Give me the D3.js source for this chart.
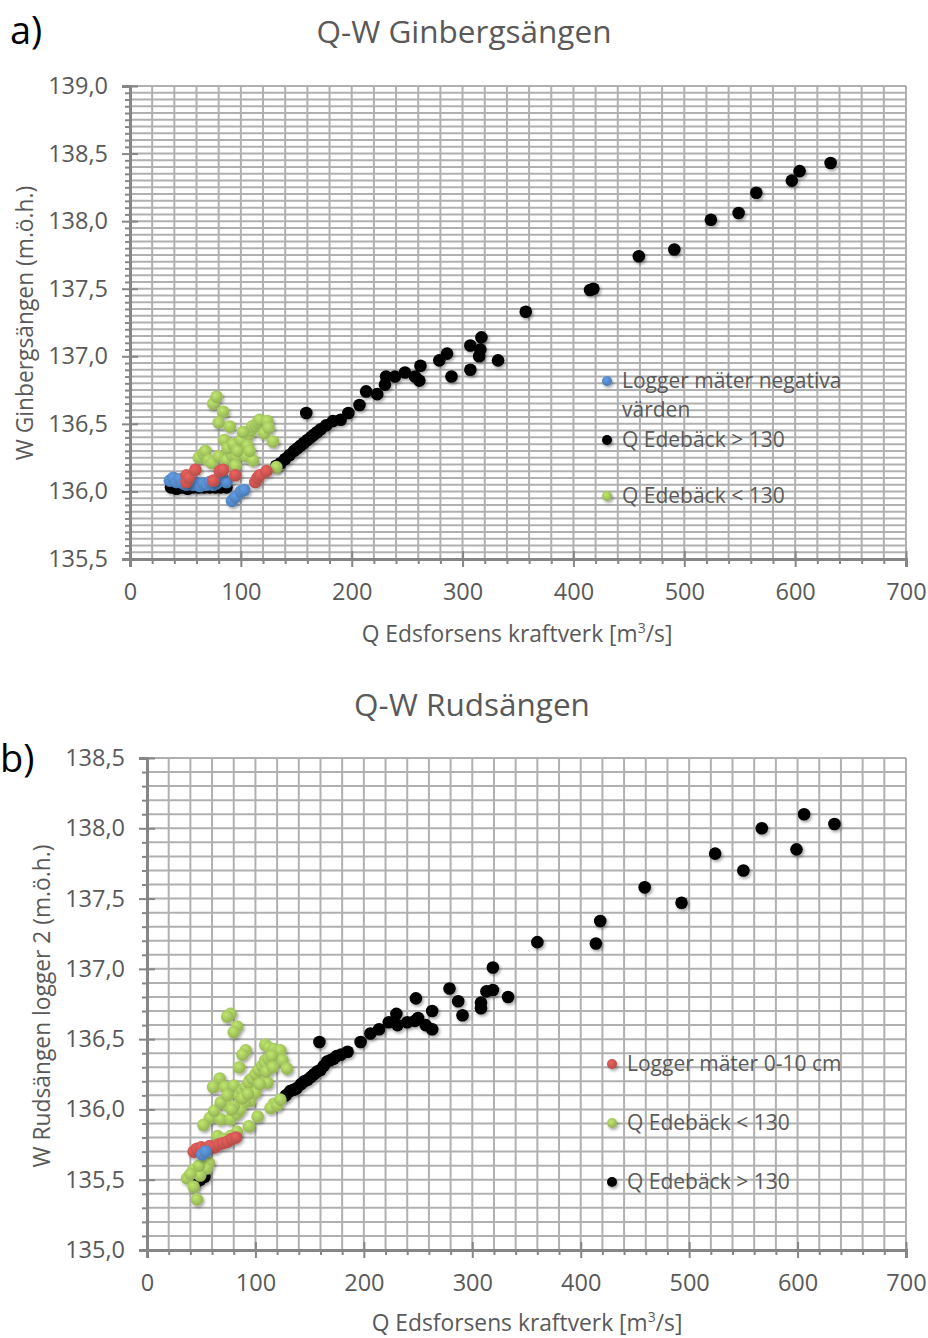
<!DOCTYPE html>
<html lang="sv">
<head>
<meta charset="UTF-8">
<title>Q-W Ginbergsängen / Rudsängen</title>
<script src="https://d3js.org/d3.v7.min.js"></script>
<style>
    body { margin: 0; background: #fff; font-family: "Open Sans", Arial, sans-serif; }
    svg { display: block; }
    .grid line { stroke: #b0b0b0; stroke-width: 2; }
    .axis path, .axis line { stroke: #868686; stroke-width: 2; }
    .axis .domain { stroke-width: 3; }
    .axis text { fill: #595959; font-size: 23.5px; font-family: "Open Sans", Arial, sans-serif; }
    .titel { fill: #595959; font-size: 31.5px; }
    .axeltitel { fill: #595959; font-size: 22.8px; }
    .leg { fill: #595959; font-size: 21px; }
    .panel { fill: #000; font-size: 38px; }
</style>
</head>
<body>
<svg width="928" height="1338"></svg>
<script>
// --- data: [Q Edsforsens (m3/s), W (m.ö.h.)] ---
const ginSvart = [
    [37,136.03],[42,136.02],[47,136.03],[52,136.02],[57,136.03],[62,136.03],[67,136.03],[72,136.03],[77,136.03],[82,136.03],[87,136.03],
    [132,136.19],[136,136.21],[140,136.24],[144,136.27],[148,136.30],[151,136.32],[154,136.34],[157,136.36],[160,136.38],[163,136.40],
    [166,136.42],[169,136.44],[172,136.46],[177,136.49],[183,136.52],[190,136.53],[159,136.58],[197,136.58],[207,136.64],[213,136.74],
    [223,136.72],[230,136.79],[231,136.85],[239,136.85],[248,136.88],[257,136.85],[261,136.82],[262,136.93],[279,136.97],[286,137.02],
    [290,136.85],[307,136.90],[307,137.08],[315,137.00],[316,137.05],[317,137.14],[332,136.97],[357,137.33],[415,137.49],[418,137.50],
    [459,137.74],[491,137.79],[524,138.01],[549,138.06],[565,138.21],[597,138.30],[604,138.37],[632,138.43]
];
const ginBla = [
    [36,136.08],[39,136.10],[42,136.07],[45,136.09],[48,136.06],[51,136.05],[54,136.07],[57,136.05],[60,136.06],[63,136.04],[66,136.06],
    [69,136.05],[72,136.07],[75,136.05],[78,136.06],[81,136.08],[84,136.09],[87,136.07],[92,135.93],[95,135.96],[100,136.00],[103,136.01]
];
const ginGron = [
    [75,136.65],[78,136.70],[84,136.59],[80,136.51],[90,136.48],[85,136.38],[62,136.25],[66,136.28],[68,136.30],[71,136.23],[74,136.21],
    [80,136.26],[87,136.23],[92,136.27],[96,136.26],[99,136.33],[101,136.29],[103,136.36],[104,136.40],[105,136.26],[107,136.42],
    [109,136.45],[110,136.48],[111,136.23],[113,136.49],[115,136.51],[117,136.53],[121,136.43],[124,136.52],[125,136.47],[129,136.37],
    [95,136.19],[132,136.18],[88,136.32],[93,136.35],[97,136.30],[100,136.38],[106,136.34],[108,136.30],[102,136.44]
];
const ginRod = [
    [51,136.12],[51,136.07],[53,136.10],[59,136.16],[75,136.08],[81,136.15],[84,136.16],[95,136.12],[113,136.07],[115,136.10],[117,136.12],[123,136.15]
];

const rudSvart = [
    [45,135.48],[49,135.50],[53,135.52],
    [128,136.10],[132,136.13],[135,136.14],[138,136.15],[142,136.18],[145,136.20],[148,136.21],[151,136.23],[154,136.25],[157,136.27],
    [160,136.28],[163,136.31],[166,136.34],[169,136.35],[172,136.36],[175,136.38],[179,136.39],[185,136.41],[159,136.48],[197,136.48],
    [206,136.54],[214,136.57],[223,136.62],[230,136.68],[231,136.60],[240,136.62],[247,136.63],[248,136.79],[250,136.65],[257,136.60],
    [263,136.70],[263,136.57],[279,136.86],[287,136.77],[291,136.67],[308,136.76],[308,136.72],[313,136.84],[319,136.85],[319,137.01],
    [333,136.80],[360,137.19],[414,137.18],[418,137.34],[459,137.58],[493,137.47],[524,137.82],[550,137.70],[567,138.00],[599,137.85],
    [606,138.10],[634,138.03]
];
const rudGron = [
    [77,136.68],[74,136.66],[83,136.59],[80,136.55],[91,136.42],[88,136.39],[85,136.30],[109,136.46],[112,136.44],[117,136.43],[120,136.41],
    [123,136.42],[125,136.35],[129,136.29],[109,136.35],[67,136.22],[61,136.16],[72,136.16],[80,136.17],[95,136.21],[105,136.23],[111,136.19],
    [95,136.06],[117,136.04],[114,136.01],[120,136.03],[123,136.07],[74,136.03],[58,135.94],[52,135.89],[68,135.93],[77,135.93],[83,135.97],
    [102,135.95],[94,135.88],[83,135.84],[65,135.81],[77,135.81],[71,135.79],[57,135.62],[55,135.58],[43,135.57],[37,135.51],[43,135.45],
    [49,135.53],[46,135.36],[40,135.54],[48,135.60],
    [85,136.10],[88,136.13],[91,136.16],[94,136.19],[97,136.22],[100,136.25],[103,136.28],[106,136.31],[109,136.33],[112,136.36],[115,136.38],
    [100,136.12],[90,136.05],[86,136.00],[80,136.02],[88,136.08],[93,136.11],[104,136.18],[110,136.27],[116,136.30],[62,135.99],[68,136.05],
    [74,136.10],[78,136.00]
];
const rudRod = [
    [43,135.70],[46,135.72],[50,135.73],[54,135.72],[58,135.74],[62,135.73],[66,135.75],[70,135.76],[74,135.77],[78,135.79],[82,135.80]
];
const rudBla = [[51,135.68],[54,135.70]];

const xDomain = [0, 700];
const xMajor = [0, 100, 200, 300, 400, 500, 600, 700];

const svg = d3.select("svg");
const komma = d3.format(".1f");
const fmt = v => komma(v).replace(".", ",");

// marker gradients + shadow
const defs = svg.append("defs");
const farger = { bla: "#4f81bd", rod: "#c0504d", gron: "#9bbb59", svart: "#000" };
Object.entries(farger).forEach(([k, c]) => {
    const g = defs.append("radialGradient").attr("id", "gr-" + k)
        .attr("cx", "40%").attr("cy", "35%").attr("r", "65%");
    g.append("stop").attr("offset", "0%").attr("stop-color", d3.color(c).brighter(k === "svart" ? 0 : 0.6));
    g.append("stop").attr("offset", "100%").attr("stop-color", d3.color(c).darker(k === "svart" ? 0 : 0.15));
});
const sk = defs.append("filter").attr("id", "skugga").attr("x", "-50%").attr("y", "-50%").attr("width", "200%").attr("height", "200%");
sk.append("feDropShadow").attr("dx", 1.5).attr("dy", 2).attr("stdDeviation", 1.4)
    .attr("flood-color", "#000").attr("flood-opacity", 0.35);

function diagram(o) {
    const x = d3.scaleLinear(xDomain, [o.left, o.right]);
    const y = d3.scaleLinear(o.yDomain, [o.bottom, o.top]);
    const g = svg.append("g");

    const yMinor = d3.range(o.yDomain[0], o.yDomain[1] + 1e-6, o.yGrid).map(v => +v.toFixed(2));
    const xMinor = d3.range(0, 701, 20);

    // grid
    const grid = g.append("g").attr("class", "grid");
    grid.selectAll(".v").data(xMinor).join("line")
        .attr("x1", d => x(d)).attr("x2", d => x(d)).attr("y1", o.top).attr("y2", o.bottom);
    grid.selectAll(".h").data(yMinor).join("line")
        .attr("y1", d => y(d)).attr("y2", d => y(d)).attr("x1", o.left).attr("x2", o.right);

    // y axis
    const ya = g.append("g").attr("class", "axis").attr("transform", `translate(${o.left},0)`);
    ya.call(d3.axisLeft(y).tickValues(o.yMajor).tickFormat(fmt).tickSize(8).tickPadding(14));
    g.append("g").attr("class", "axis").attr("transform", `translate(${o.left},0)`)
        .call(d3.axisRight(y).tickValues(o.yMajor).tickFormat("").tickSize(8)).select(".domain").remove();
    g.append("g").attr("class", "axis").attr("transform", `translate(${o.left},0)`)
        .call(d3.axisLeft(y).tickValues(yMinor.filter(v => !o.yMajor.some(m => Math.abs(m - v) < 1e-6)))
            .tickFormat("").tickSize(5)).select(".domain").remove();

    // x axis
    const xa = g.append("g").attr("class", "axis").attr("transform", `translate(0,${o.bottom})`);
    xa.call(d3.axisBottom(x).tickValues(xMajor).tickFormat(d3.format("d")).tickSize(8).tickPadding(16));
    g.append("g").attr("class", "axis").attr("transform", `translate(0,${o.bottom})`)
        .call(d3.axisTop(x).tickValues(xMajor).tickFormat("").tickSize(8)).select(".domain").remove();
    g.append("g").attr("class", "axis").attr("transform", `translate(0,${o.bottom})`)
        .call(d3.axisBottom(x).tickValues(xMinor.filter(v => v % 100 !== 0)).tickFormat("").tickSize(5))
        .select(".domain").remove();

    // points
    o.serier.forEach(s => {
        g.append("g").attr("filter", "url(#skugga)")
            .selectAll("circle").data(s.data).join("circle")
            .attr("cx", d => x(d[0])).attr("cy", d => y(d[1])).attr("r", 6.3)
            .attr("fill", `url(#gr-${s.farg})`);
    });

    // legend
    o.legend.forEach(l => {
        g.append("circle").attr("cx", l.x).attr("cy", l.y).attr("r", 5)
            .attr("fill", `url(#gr-${l.farg})`).attr("filter", "url(#skugga)");
        l.text.forEach((rad, i) => g.append("text").attr("class", "leg")
            .attr("x", l.x + 15).attr("y", l.y + 7 + i * 29).text(rad));
    });

    // titles
    g.append("text").attr("class", "titel").attr("x", o.titelX).attr("y", o.titelY)
        .attr("text-anchor", "middle").text(o.titel);
    g.append("text").attr("class", "panel").attr("x", o.panelX).attr("y", o.panelY).text(o.panel);
    g.append("text").attr("class", "axeltitel").attr("text-anchor", "middle")
        .attr("transform", `translate(${o.yTitelX},${o.yTitelY}) rotate(-90)`).text(o.yTitel);
    const xt = g.append("text").attr("class", "axeltitel").attr("text-anchor", "middle")
        .attr("x", o.xTitelX).attr("y", o.xTitelY);
    xt.append("tspan").text("Q Edsforsens kraftverk [m");
    xt.append("tspan").attr("font-size", "14px").attr("dy", -9).text("3");
    xt.append("tspan").attr("dy", 9).text("/s]");
}

diagram({
    left: 130, right: 906, top: 86, bottom: 559,
    yDomain: [135.5, 139.0], yMajor: [135.5, 136, 136.5, 137, 137.5, 138, 138.5, 139], yGrid: 0.05,
    serier: [
        { data: ginSvart, farg: "svart" },
        { data: ginBla, farg: "bla" },
        { data: ginGron, farg: "gron" },
        { data: ginRod, farg: "rod" }
    ],
    legend: [
        { x: 607, y: 381, farg: "bla", text: ["Logger mäter negativa", "värden"] },
        { x: 607, y: 440, farg: "svart", text: ["Q Edebäck > 130"] },
        { x: 607, y: 496, farg: "gron", text: ["Q Edebäck < 130"] }
    ],
    titel: "Q-W Ginbergsängen", titelX: 464, titelY: 43,
    panel: "a)", panelX: 10, panelY: 44,
    yTitel: "W Ginbergsängen (m.ö.h.)", yTitelX: 33, yTitelY: 323,
    xTitelX: 517, xTitelY: 642
});

diagram({
    left: 147, right: 906, top: 758, bottom: 1250,
    yDomain: [135.0, 138.5], yMajor: [135, 135.5, 136, 136.5, 137, 137.5, 138, 138.5], yGrid: 0.1,
    serier: [
        { data: rudSvart, farg: "svart" },
        { data: rudGron, farg: "gron" },
        { data: rudRod, farg: "rod" },
        { data: rudBla, farg: "bla" }
    ],
    legend: [
        { x: 612, y: 1064, farg: "rod", text: ["Logger mäter 0-10 cm"] },
        { x: 612, y: 1123, farg: "gron", text: ["Q Edebäck < 130"] },
        { x: 612, y: 1182, farg: "svart", text: ["Q Edebäck > 130"] }
    ],
    titel: "Q-W Rudsängen", titelX: 472, titelY: 716,
    panel: "b)", panelX: 0, panelY: 772,
    yTitel: "W Rudsängen logger 2 (m.ö.h.)", yTitelX: 50, yTitelY: 1006,
    xTitelX: 527, xTitelY: 1331
});
</script>
</body>
</html>
